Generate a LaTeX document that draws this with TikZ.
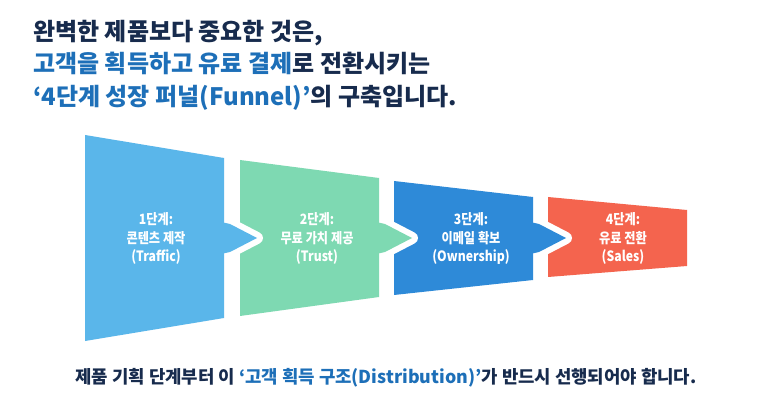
\documentclass[tikz,border=0pt]{standalone}
\usepackage{fontspec}
\setmainfont{Noto Sans CJK KR}
\newfontfamily\krnarrow{Noto Sans CJK KR}[FakeStretch=0.86]
\definecolor{navy}{HTML}{172B4D}
\definecolor{hl}{HTML}{1D6FB8}
\definecolor{lblue}{HTML}{5AB6EA}
\definecolor{mint}{HTML}{7ED9B2}
\definecolor{dblue}{HTML}{2E8AD8}
\definecolor{coral}{HTML}{F4644E}
\tikzset{
 ttl/.style={anchor=base west, inner sep=0pt, font=\fontsize{24}{30}\selectfont\bfseries, text=navy},
 stg/.style={align=center, text=white, font=\krnarrow\fontsize{14.2}{18.5}\selectfont\bfseries, inner sep=0pt},
 gapline/.style={draw=white, line width=12pt, line join=round},
 foot/.style={inner sep=0pt, font=\fontsize{17.8}{20}\selectfont\bfseries, text=navy},
}
\begin{document}
\begin{tikzpicture}[x=1pt,y=-1pt]
\useasboundingbox[fill=white] (0,0) rectangle (773,419);
% titles
\node[ttl] (t1) at (33,41) {완벽한 제품보다 중요한 것은,};
\node[ttl] (t2) at (33,73) {\textcolor{hl}{고객을 획득하고 유료 결제}로 전환시키는};
\node[ttl] (t3) at (33,106) {\textcolor{hl}{‘4단계 성장 퍼널(Funnel)’}의 구축입니다.};
% stage 4
\fill[coral] (548,197) -- (687,210) -- (687,266) -- (548,277) -- cycle;
% arrow 3
\path[gapline] (530,222) -- (539,224) -- (566,238) -- (539,252) -- (530,254) -- cycle;
\fill[dblue] (530,222) -- (539,224) -- (566,238) -- (539,252) -- (530,254) -- cycle;
\fill[dblue] (394,181) -- (533,197) -- (533,280) -- (394,295) -- cycle;
% arrow 2
\path[gapline] (376,222) -- (385,224) -- (412,238) -- (385,252) -- (376,254) -- cycle;
\fill[mint] (376,222) -- (385,224) -- (412,238) -- (385,252) -- (376,254) -- cycle;
\fill[mint] (240,160) -- (379,178) -- (379,297) -- (240,316) -- cycle;
% arrow 1
\path[gapline] (221,222) -- (230,224) -- (257,238) -- (230,252) -- (221,254) -- cycle;
\fill[lblue] (221,222) -- (230,224) -- (257,238) -- (230,252) -- (221,254) -- cycle;
\fill[lblue] (85,135) -- (224,158) -- (224,318) -- (85,341) -- cycle;
% stage labels
\node[stg] (s1) at (156,238.5) {1단계:\\콘텐츠 제작\\(Traffic)};
\node[stg] (s2) at (317,238.5) {2단계:\\무료 가치 제공\\(Trust)};
\node[stg] (s3) at (471,238.5) {3단계:\\이메일 확보\\(Ownership)};
\node[stg] (s4) at (623,238.5) {4단계:\\유료 전환\\(Sales)};
% footer
\node[foot] (f) at (386,378) {제품 기획 단계부터 이 \textcolor{hl}{‘고객 획득 구조(Distribution)’}가 반드시 선행되어야 합니다.};
\end{tikzpicture}
\end{document}
